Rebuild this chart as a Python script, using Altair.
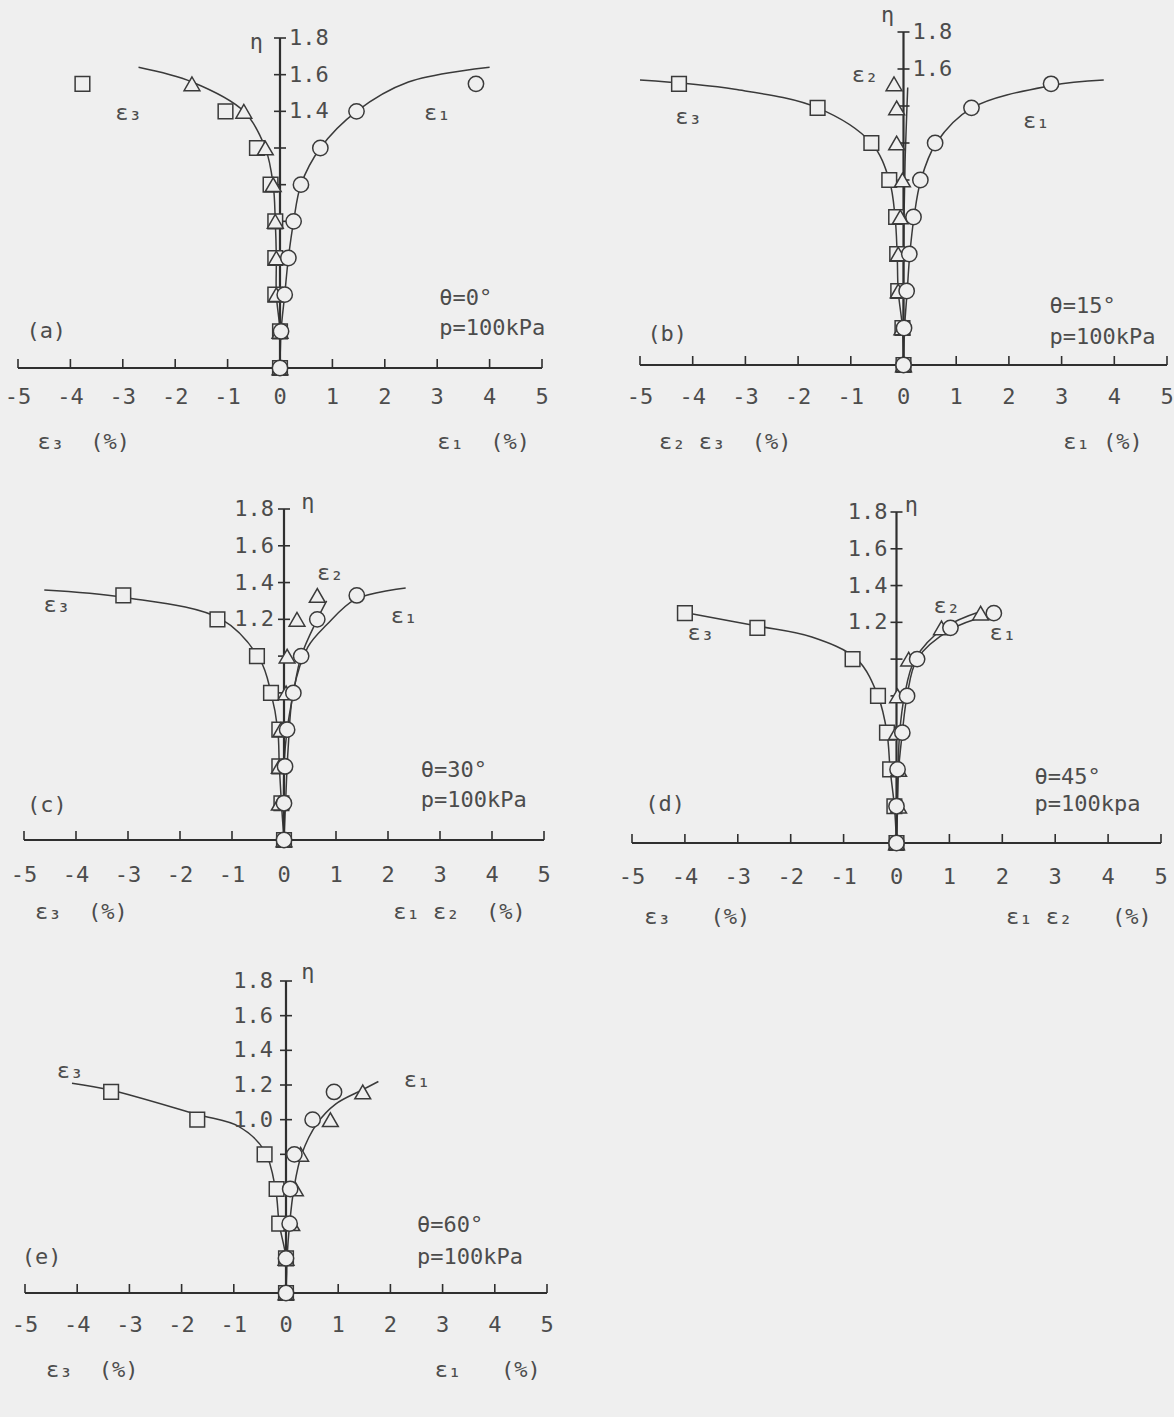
import altair as alt
import pandas as pd

BG = "#efefef"
INK = "#3a3a3a"
AXIS_INK = "#2f2f2f"
TXT = "#4c4c4c"
FONT = "DejaVu Sans Mono"
FS = 22
SP = "\u00a0"  # non-collapsing space for the axis captions

# shared axis ticks
x_ticks = [-5, -4, -3, -2, -1, 0, 1, 2, 3, 4, 5]
eta_ticks = [0.2, 0.4, 0.6, 0.8, 1.0, 1.2, 1.4, 1.6, 1.8]
x_domain = [-5, 5]
eta_domain = [0, 1.8]

# ---- (a) theta = 0 deg ----
eta_a = [0, 0.2, 0.4, 0.6, 0.8, 1.0, 1.2, 1.4, 1.55]
e1_a = [0, 0.02, 0.09, 0.16, 0.26, 0.40, 0.77, 1.46, 3.74]
e2_a = [0, 0.0, -0.07, -0.07, -0.09, -0.13, -0.28, -0.69, -1.68]
e3_a = [0, 0.0, -0.09, -0.09, -0.09, -0.18, -0.44, -1.04, -3.77]
fit_a_e1_x = [0, 0.02, 0.09, 0.16, 0.26, 0.40, 0.77, 1.46, 2.45, 4.0]
fit_a_e1_eta = [0, 0.2, 0.4, 0.6, 0.8, 1.0, 1.2, 1.4, 1.56, 1.64]
fit_a_e3_x = [0, 0.0, -0.07, -0.07, -0.09, -0.13, -0.28, -0.69, -1.68, -2.7]
fit_a_e3_eta = [0, 0.2, 0.4, 0.6, 0.8, 1.0, 1.2, 1.4, 1.56, 1.64]

# ---- (b) theta = 15 deg ----
eta_b = [0, 0.2, 0.4, 0.6, 0.8, 1.0, 1.2, 1.39, 1.52]
e1_b = [0, 0.01, 0.06, 0.11, 0.19, 0.32, 0.60, 1.29, 2.80]
e2_b = [0, -0.03, -0.10, -0.10, -0.06, -0.02, -0.13, -0.13, -0.18]
e3_b = [0, -0.02, -0.10, -0.12, -0.14, -0.27, -0.61, -1.63, -4.26]
fit_b_e1_x = [0, 0.02, 0.07, 0.12, 0.20, 0.33, 0.62, 1.30, 2.80, 3.80]
fit_b_e1_eta = [0, 0.2, 0.4, 0.6, 0.8, 1.0, 1.2, 1.39, 1.51, 1.54]
fit_b_e2_x = [0, 0.0, 0.01, 0.03, 0.06, 0.08]
fit_b_e2_eta = [0, 0.4, 0.8, 1.1, 1.35, 1.5]
fit_b_e3_x = [0, -0.02, -0.10, -0.12, -0.16, -0.27, -0.61, -1.63, -3.2, -5.0]
fit_b_e3_eta = [0, 0.2, 0.4, 0.6, 0.8, 1.0, 1.2, 1.39, 1.49, 1.54]

# ---- (c) theta = 30 deg ----
eta_c = [0, 0.2, 0.4, 0.6, 0.8, 1.0, 1.2, 1.33]
e1_c = [0, 0.0, 0.02, 0.06, 0.18, 0.33, 0.64, 1.40]
e2_c = [0, -0.09, -0.09, -0.06, 0.04, 0.06, 0.25, 0.64]
e3_c = [0, -0.05, -0.09, -0.09, -0.25, -0.52, -1.28, -3.09]
fit_c_e1_x = [0, 0.03, 0.08, 0.18, 0.46, 0.82, 1.38, 2.34]
fit_c_e1_eta = [0, 0.2, 0.5, 0.81, 1.05, 1.17, 1.31, 1.37]
fit_c_e2_x = [0, 0.0, 0.06, 0.18, 0.33, 0.64, 0.82]
fit_c_e2_eta = [0, 0.4, 0.6, 0.8, 1.0, 1.2, 1.3]
fit_c_e3_x = [0, -0.05, -0.09, -0.12, -0.25, -0.46, -1.2, -3.09, -4.61]
fit_c_e3_eta = [0, 0.2, 0.4, 0.6, 0.8, 0.98, 1.2, 1.32, 1.36]

# ---- (d) theta = 45 deg ----
eta_d = [0, 0.2, 0.4, 0.6, 0.8, 1.0, 1.17, 1.25]
e1_d = [0, 0.0, 0.02, 0.11, 0.20, 0.39, 1.02, 1.84]
e2_d = [0, 0.04, 0.04, 0.0, 0.02, 0.23, 0.85, 1.59]
e3_d = [0, -0.04, -0.12, -0.18, -0.35, -0.83, -2.63, -4.0]
fit_d_e1_x = [0, 0.01, 0.04, 0.11, 0.20, 0.39, 1.02, 1.75]
fit_d_e1_eta = [0, 0.2, 0.4, 0.6, 0.8, 1.0, 1.16, 1.24]
fit_d_e2_x = [0, 0.02, 0.03, 0.06, 0.15, 0.35, 0.90, 1.60]
fit_d_e2_eta = [0, 0.2, 0.4, 0.6, 0.8, 1.0, 1.17, 1.26]
fit_d_e3_x = [0, -0.04, -0.12, -0.18, -0.35, -0.75, -1.6, -2.63, -3.85]
fit_d_e3_eta = [0, 0.2, 0.4, 0.6, 0.8, 1.0, 1.12, 1.18, 1.245]

# ---- (e) theta = 60 deg ----
eta_e = [0, 0.2, 0.4, 0.6, 0.8, 1.0, 1.16]
e1_e = [0, 0.0, 0.07, 0.08, 0.16, 0.51, 0.92]
e2_e = [0, 0.0, 0.11, 0.18, 0.28, 0.85, 1.47]
e3_e = [0, 0.0, -0.13, -0.18, -0.41, -1.70, -3.35]
fit_e_e1_x = [0, 0.02, 0.07, 0.15, 0.30, 0.60, 0.95, 1.45, 1.77]
fit_e_e1_eta = [0, 0.2, 0.4, 0.6, 0.8, 0.98, 1.09, 1.17, 1.22]
fit_e_e3_x = [0, 0.0, -0.13, -0.2, -0.41, -0.9, -1.7, -3.35, -4.1]
fit_e_e3_eta = [0, 0.2, 0.4, 0.6, 0.82, 0.96, 1.03, 1.17, 1.21]


def cap(*parts):
    """Axis caption with fixed gaps between its pieces."""
    return "".join(parts).replace(" ", SP)


# page layout of each panel: pixel ranges of the scales and where the annotations sit
layouts = {
    "a": dict(x_range=[18, 542], y_range=[368, 38], eta_labels=[1.4, 1.6, 1.8], eta_side="right", eta_dx=9,
              tick_dy=29, title_dy=74,
              titles=[(-4.63, cap("ε₃  (%)")), (3.0, cap("ε₁  (%)"))],
              centered=[(-2.89, 1.39, "ε₃"), (3.0, 1.39, "ε₁"), (-0.45, 1.78, "η")],
              left=[(3.04, 0.38, "θ=0°"), (3.04, 0.22, "p=100kPa"), (-4.84, 0.2, "(a)")]),
    "b": dict(x_range=[640, 1167], y_range=[365, 32], eta_labels=[1.6, 1.8], eta_side="right", eta_dx=9,
              tick_dy=32, title_dy=77,
              titles=[(-4.64, cap("ε₂ ε₃  (%)")), (3.03, cap("ε₁ (%)"))],
              centered=[(-0.73, 1.57, "ε₂"), (-4.08, 1.34, "ε₃"), (2.52, 1.32, "ε₁"), (-0.3, 1.89, "η")],
              left=[(2.77, 0.32, "θ=15°"), (2.77, 0.15, "p=100kPa"), (-4.86, 0.17, "(b)")]),
    "c": dict(x_range=[24, 544], y_range=[840, 509], eta_labels=[1.2, 1.4, 1.6, 1.8], eta_side="left", eta_dx=-10,
              tick_dy=35, title_dy=72,
              titles=[(-4.79, cap("ε₃  (%)")), (2.1, cap("ε₁ ε₂  (%)"))],
              centered=[(0.89, 1.45, "ε₂"), (2.31, 1.22, "ε₁"), (-4.37, 1.28, "ε₃"), (0.46, 1.84, "η")],
              left=[(2.63, 0.38, "θ=30°"), (2.63, 0.22, "p=100kPa"), (-4.94, 0.19, "(c)")]),
    "d": dict(x_range=[632, 1161], y_range=[843, 512], eta_labels=[1.2, 1.4, 1.6, 1.8], eta_side="left", eta_dx=-9,
              tick_dy=34, title_dy=74,
              titles=[(-4.77, cap("ε₃   (%)")), (2.07, cap("ε₁ ε₂   (%)"))],
              centered=[(0.95, 1.29, "ε₂"), (2.01, 1.14, "ε₁"), (-3.7, 1.14, "ε₃"), (0.28, 1.84, "η")],
              left=[(2.61, 0.36, "θ=45°"), (2.61, 0.21, "p=100kpa"), (-4.75, 0.21, "(d)")]),
    "e": dict(x_range=[25, 547], y_range=[1293, 981], eta_labels=[1.0, 1.2, 1.4, 1.6, 1.8], eta_side="left",
              eta_dx=-13, tick_dy=32, title_dy=77,
              titles=[(-4.6, cap("ε₃  (%)")), (2.85, cap("ε₁   (%)"))],
              centered=[(-4.14, 1.28, "ε₃"), (2.51, 1.23, "ε₁"), (0.42, 1.85, "η")],
              left=[(2.51, 0.39, "θ=60°"), (2.51, 0.21, "p=100kPa"), (-5.06, 0.21, "(e)")]),
}


def text_mark(**kw):
    base = dict(font=FONT, fontSize=FS, color=TXT, baseline="middle")
    base.update(kw)
    return base


def panel(key, eta, e1, e2, e3, fits):
    lay = layouts[key]
    xs = alt.Scale(domain=x_domain, range=lay["x_range"], nice=False, zero=False)
    ys = alt.Scale(domain=eta_domain, range=lay["y_range"], nice=False, zero=False)

    def enc():
        return dict(x=alt.X("x:Q", scale=xs, axis=None), y=alt.Y("y:Q", scale=ys, axis=None))

    layers = []
    # fitted curves
    for fx, fe in fits:
        df = pd.DataFrame({"x": fx, "y": fe, "i": list(range(len(fx)))})
        layers.append(
            alt.Chart(df).mark_line(interpolate="catmull-rom", color=INK, strokeWidth=1.5)
            .encode(order="i:Q", **enc())
        )

    # strain axis through eta = 0 and eta axis through strain = 0
    xa = pd.DataFrame({"x": [x_domain[0]], "x2": [x_domain[1]], "y": [0]})
    layers.append(alt.Chart(xa).mark_rule(color=AXIS_INK, strokeWidth=2.2)
                  .encode(x=alt.X("x:Q", scale=xs, axis=None), x2="x2",
                          y=alt.Y("y:Q", scale=ys, axis=None)))
    ya = pd.DataFrame({"x": [0], "y": [eta_domain[0]], "y2": [eta_domain[1]]})
    layers.append(alt.Chart(ya).mark_rule(color=AXIS_INK, strokeWidth=2.2)
                  .encode(x=alt.X("x:Q", scale=xs, axis=None),
                          y=alt.Y("y:Q", scale=ys, axis=None), y2="y2"))

    xt = pd.DataFrame({"x": x_ticks, "y": [0] * len(x_ticks)})
    layers.append(alt.Chart(xt).mark_tick(orient="vertical", size=9, thickness=1.6,
                                          color=AXIS_INK, yOffset=-4.5, opacity=1).encode(**enc()))
    yt = pd.DataFrame({"x": [0] * len(eta_ticks), "y": eta_ticks})
    layers.append(alt.Chart(yt).mark_tick(orient="horizontal", size=12, thickness=1.6,
                                          color=AXIS_INK, opacity=1).encode(**enc()))

    # tick labels
    xl = pd.DataFrame({"x": x_ticks, "y": [0] * len(x_ticks), "t": [str(v) for v in x_ticks]})
    layers.append(alt.Chart(xl).mark_text(**text_mark(align="center", dy=lay["tick_dy"]))
                  .encode(text="t:N", **enc()))
    yl = pd.DataFrame({"x": [0] * len(lay["eta_labels"]), "y": lay["eta_labels"],
                       "t": [f"{v:.1f}" for v in lay["eta_labels"]]})
    label_align = "left" if lay["eta_side"] == "right" else "right"
    layers.append(alt.Chart(yl).mark_text(**text_mark(align=label_align, dx=lay["eta_dx"]))
                  .encode(text="t:N", **enc()))

    # measured points: squares = eps3, triangles = eps2, circles = eps1
    for vals, shape, size in ((e3, "square", 215), (e2, "triangle-up", 250), (e1, "circle", 235)):
        df = pd.DataFrame({"x": vals, "y": eta})
        layers.append(alt.Chart(df).mark_point(shape=shape, size=size, filled=True, fill=BG,
                                               stroke=INK, strokeWidth=1.5, opacity=1)
                      .encode(**enc()))

    # annotations
    ct = pd.DataFrame(lay["centered"], columns=["x", "y", "t"])
    layers.append(alt.Chart(ct).mark_text(**text_mark(align="center")).encode(text="t:N", **enc()))
    lt = pd.DataFrame(lay["left"], columns=["x", "y", "t"])
    layers.append(alt.Chart(lt).mark_text(**text_mark(align="left")).encode(text="t:N", **enc()))
    tt = pd.DataFrame([(x, 0, t) for x, t in lay["titles"]], columns=["x", "y", "t"])
    layers.append(alt.Chart(tt).mark_text(**text_mark(align="left", dy=lay["title_dy"]))
                  .encode(text="t:N", **enc()))
    return alt.layer(*layers)


pa = panel("a", eta_a, e1_a, e2_a, e3_a,
           [(fit_a_e1_x, fit_a_e1_eta), (fit_a_e3_x, fit_a_e3_eta)])
pb = panel("b", eta_b, e1_b, e2_b, e3_b,
           [(fit_b_e1_x, fit_b_e1_eta), (fit_b_e2_x, fit_b_e2_eta), (fit_b_e3_x, fit_b_e3_eta)])
pc = panel("c", eta_c, e1_c, e2_c, e3_c,
           [(fit_c_e1_x, fit_c_e1_eta), (fit_c_e2_x, fit_c_e2_eta), (fit_c_e3_x, fit_c_e3_eta)])
pd_ = panel("d", eta_d, e1_d, e2_d, e3_d,
            [(fit_d_e1_x, fit_d_e1_eta), (fit_d_e2_x, fit_d_e2_eta), (fit_d_e3_x, fit_d_e3_eta)])
pe = panel("e", eta_e, e1_e, e2_e, e3_e,
           [(fit_e_e1_x, fit_e_e1_eta), (fit_e_e3_x, fit_e_e3_eta)])

chart = (
    alt.layer(pa, pb, pc, pd_, pe)
    .resolve_scale(x="independent", y="independent")
    .properties(width=1174, height=1417, background=BG, padding=0,
                autosize=alt.AutoSizeParams(type="none"))
    .configure_view(strokeWidth=0)
)

chart.save("out.html", embed_options={"renderer": "svg", "actions": False})
